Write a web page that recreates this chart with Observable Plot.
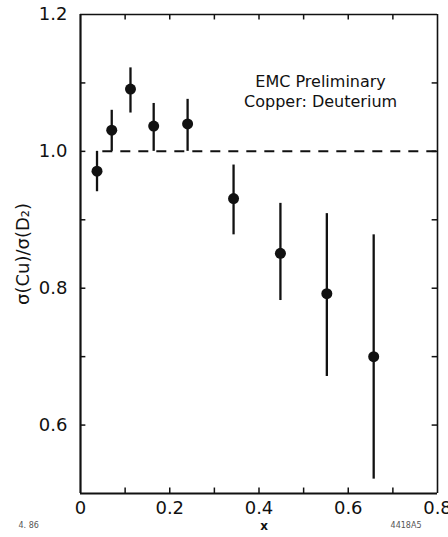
<!DOCTYPE html>
<html><head><meta charset="utf-8">
<script src="https://cdn.jsdelivr.net/npm/d3@7"></script>
<script src="https://cdn.jsdelivr.net/npm/@observablehq/plot@0.6"></script>
<style>
body{margin:0;background:#fff}
#chart{width:448px;height:537px}
</style>
</head><body><div id="chart"></div>
<script>
// Measured values (x, ratio, error bar low/high)
const xValues  = [0.037, 0.070, 0.112, 0.164, 0.240, 0.343, 0.448, 0.552, 0.657];
const ratio    = [0.971, 1.031, 1.091, 1.037, 1.040, 0.931, 0.851, 0.792, 0.700];
const errLow   = [0.941, 1.000, 1.056, 1.000, 1.000, 0.878, 0.782, 0.671, 0.521];
const errHigh  = [1.000, 1.060, 1.122, 1.070, 1.076, 0.980, 0.924, 0.909, 0.878];

const yTickValues = [0.6, 0.8, 1.0, 1.2];
const yTickLabels = ["0.6", "0.8", "1.0", "1.2"];
const xTickValues = [0, 0.2, 0.4, 0.6, 0.8];
const xTickLabels = ["0", "0.2", "0.4", "0.6", "0.8"];
const minorX = [0.1, 0.2, 0.3, 0.4, 0.5, 0.6, 0.7];
const minorY = [0.6, 0.7, 0.8, 0.9, 1.0, 1.1];
const annotationLines = ["EMC Preliminary", "Copper: Deuterium"];
const annotationX = [0.538, 0.538];
const annotationY = [1.102, 1.072];
const referenceLevel = [1.0];
const yLabel = "σ(Cu)/σ(D₂)";
const xLabel = "x";
const cornerNotes = ["4. 86", "4418A5"];

const points = xValues.map((x, i) => ({x, y: ratio[i], lo: errLow[i], hi: errHigh[i]}));
const notes = annotationLines.map((t, i) => ({t, x: annotationX[i], y: annotationY[i]}));
const ink = "#111";

const chart = Plot.plot({
  width: 448,
  height: 537,
  marginLeft: 80,
  marginRight: 11,
  marginTop: 14,
  marginBottom: 44,
  style: {fontFamily: "'DejaVu Sans', sans-serif", background: "#fff", color: ink},
  x: {domain: [0, 0.8]},
  y: {domain: [0.5, 1.2]},
  marks: [
    // frame
    Plot.ruleX([0], {stroke: ink, strokeWidth: 2.2}),
    Plot.ruleX([0.8], {stroke: ink, strokeWidth: 1.6}),
    Plot.ruleY([0.5], {stroke: ink, strokeWidth: 2.2}),
    Plot.ruleY([1.2], {stroke: ink, strokeWidth: 1.6}),
    // inward minor ticks
    Plot.ruleX(minorX, {x: d => d, y1: 1.2, y2: 1.192, stroke: ink, strokeWidth: 1.5}),
    Plot.ruleX(minorX, {x: d => d, y1: 0.5, y2: 0.508, stroke: ink, strokeWidth: 1.5}),
    Plot.ruleY(minorY, {y: d => d, x1: 0, x2: 0.012, stroke: ink, strokeWidth: 1.5}),
    Plot.ruleY(minorY, {y: d => d, x1: 0.8, x2: 0.788, stroke: ink, strokeWidth: 1.5}),
    // axes labels
    Plot.axisY(yTickValues, {
      tickSize: 0, tickPadding: 13, fontSize: 18,
      tickFormat: d => yTickLabels[yTickValues.indexOf(d)],
      label: yLabel, labelAnchor: "center", labelOffset: 64, labelArrow: "none"
    }),
    Plot.axisX(xTickValues, {
      tickSize: 0, tickPadding: 8, fontSize: 18,
      tickFormat: d => xTickLabels[xTickValues.indexOf(d)],
      label: null
    }),
    Plot.text([xLabel], {frameAnchor: "bottom", dx: 5, dy: 36, fontSize: 12, fontWeight: "bold", fill: ink}),
    // dashed reference line
    Plot.ruleY(referenceLevel, {x1: 0.05, x2: 0.8, stroke: ink, strokeWidth: 2, strokeDasharray: "10,8"}),
    // error bars and points
    Plot.ruleX(points, {x: "x", y1: "lo", y2: "hi", stroke: ink, strokeWidth: 2.3}),
    Plot.dot(points, {x: "x", y: "y", r: 5.5, fill: ink, stroke: "none"}),
    // annotation
    Plot.text(notes, {x: "x", y: "y", text: "t", fontSize: 16, fill: ink}),
    // corner scan notes
    Plot.text([cornerNotes[0]], {frameAnchor: "bottom-left", dx: -62, dy: 34, fontSize: 8, fill: "#555"}),
    Plot.text([cornerNotes[1]], {frameAnchor: "bottom-right", dx: -16, dy: 34, fontSize: 8, fill: "#555"})
  ]
});
document.getElementById("chart").append(chart);
</script>
</body></html>
